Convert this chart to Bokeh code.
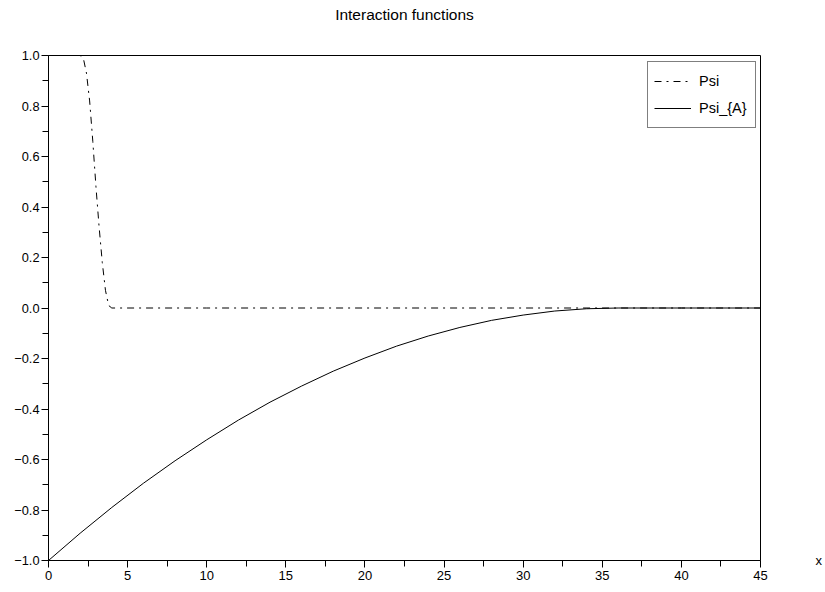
from bokeh.plotting import figure
from bokeh.models import (Range1d, FixedTicker, CustomJSTickFormatter, LinearAxis,
                          Legend, LegendItem, ColumnDataSource)
from bokeh.embed import file_html
from bokeh.resources import INLINE

# ---- data ----
title_text = "Interaction functions"
x_label_text = "x"

psi_x = [0.0, 1.0, 2.0, 2.2, 2.4, 2.6, 2.8, 3.0, 3.2, 3.4, 3.6, 3.8, 4.0, 10.0, 20.0, 30.0, 40.0, 45.0]
psi_y = [1.0, 1.0, 1.0, 0.99, 0.93, 0.82, 0.66, 0.48, 0.32, 0.18, 0.07, 0.01, 0.0, 0.0, 0.0, 0.0, 0.0, 0.0]

psia_x = [0, 2, 4, 6, 8, 10, 12, 14, 16, 18, 20, 22, 24, 26, 28, 30, 32, 34, 36, 40, 45]
psia_y = [-1.0, -0.892, -0.790, -0.694, -0.605, -0.522, -0.444, -0.373, -0.309, -0.250,
          -0.198, -0.151, -0.111, -0.077, -0.049, -0.028, -0.012, -0.003, 0.0, 0.0, 0.0]

series_names = ["Psi", "Psi_{A}"]

x_major = [0, 5, 10, 15, 20, 25, 30, 35, 40, 45]
x_minor = [2.5, 7.5, 12.5, 17.5, 22.5, 27.5, 32.5, 37.5, 42.5]
y_major = [-1.0, -0.8, -0.6, -0.4, -0.2, 0.0, 0.2, 0.4, 0.6, 0.8, 1.0]
y_minor = [-0.9, -0.7, -0.5, -0.3, -0.1, 0.1, 0.3, 0.5, 0.7, 0.9]

FONT = "Liberation Sans"

p = figure(width=825, height=592, output_backend="svg", toolbar_location=None,
           x_range=Range1d(0, 45), y_range=Range1d(-1, 1),
           min_border_left=48, min_border_right=63, min_border_top=55, min_border_bottom=32)
p.xgrid.visible = False
p.ygrid.visible = False
p.outline_line_color = "black"
p.outline_line_width = 1
p.background_fill_color = "white"
p.border_fill_color = "white"

for ax in (p.xaxis[0], p.yaxis[0]):
    ax.axis_line_color = "black"
    ax.major_tick_line_color = "black"
    ax.minor_tick_line_color = "black"
    ax.major_tick_in = 0
    ax.minor_tick_in = 0
    ax.major_tick_out = 7
    ax.minor_tick_out = 6
    ax.major_label_text_font = FONT
    ax.major_label_text_color = "black"

p.xaxis[0].ticker = FixedTicker(ticks=x_major, minor_ticks=x_minor)
p.yaxis[0].ticker = FixedTicker(ticks=y_major, minor_ticks=y_minor)
p.xaxis[0].major_label_text_font_size = "13px"
p.yaxis[0].major_label_text_font_size = "12.8px"
p.xaxis[0].major_label_standoff = 3
p.yaxis[0].major_label_standoff = 2
p.xaxis[0].formatter = CustomJSTickFormatter(code="return String(Math.round(tick));")
p.yaxis[0].formatter = CustomJSTickFormatter(
    code="return tick.toFixed(1).replace('-', '\u2212');")


def text_axis(tick_value, text, standoff, size):
    ax = LinearAxis(ticker=FixedTicker(ticks=[tick_value], minor_ticks=[]),
                    formatter=CustomJSTickFormatter(args=dict(name=text), code="return name;"))
    ax.axis_line_color = None
    ax.major_tick_line_color = None
    ax.minor_tick_line_color = None
    ax.major_tick_in = 0
    ax.major_tick_out = 0
    ax.major_label_standoff = standoff
    ax.major_label_text_font = FONT
    ax.major_label_text_font_size = size
    ax.major_label_text_color = "black"
    return ax


# title centred above the frame (Scilab style)
p.add_layout(text_axis((x_major[0] + x_major[-1]) / 2, title_text, 33, "15.5px"), "above")
# axis name "x" placed at the right end of the x axis (Scilab style)
p.add_layout(text_axis(y_major[0], x_label_text, 55, "13px"), "right")

src_psi = ColumnDataSource(dict(x=psi_x, y=psi_y))
src_psia = ColumnDataSource(dict(x=psia_x, y=psia_y))
r1 = p.line("x", "y", source=src_psi, line_color="black", line_width=1, line_dash="7 5 2 5")
r2 = p.line("x", "y", source=src_psia, line_color="black", line_width=1)

legend = Legend(items=[LegendItem(label=series_names[0], renderers=[r1]),
                       LegendItem(label=series_names[1], renderers=[r2])],
                location=(599, 432))
legend.margin = 0
legend.padding = 6
legend.spacing = 1
legend.glyph_width = 37
legend.glyph_height = 26
legend.label_standoff = 8
legend.label_width = 50
legend.label_text_font = FONT
legend.label_text_font_size = "14.5px"
legend.label_text_color = "black"
legend.border_line_color = "black"
legend.border_line_width = 1
legend.background_fill_color = "white"
legend.background_fill_alpha = 1.0
p.add_layout(legend)

open("out.html", "w").write(file_html(p, INLINE))
